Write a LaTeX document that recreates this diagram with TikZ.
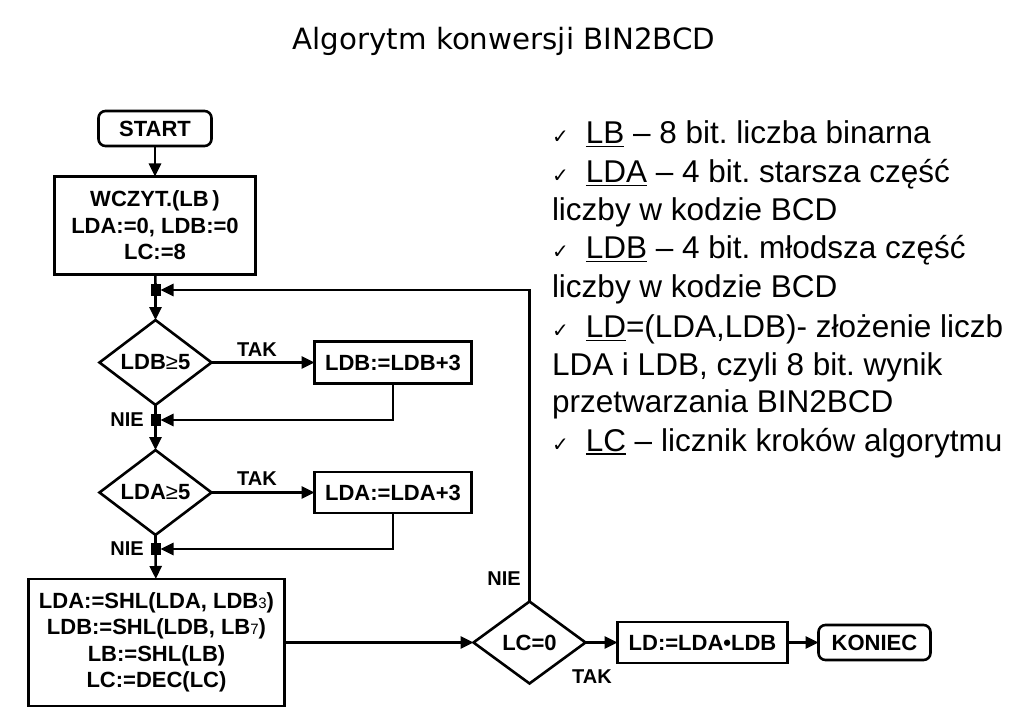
\documentclass[tikz,border=0pt]{standalone}
\usepackage{fontspec}
\setmainfont{Liberation Sans}
\newfontfamily\titlefont{DejaVu Sans}
\newfontfamily\symfont{DejaVu Sans}
\usetikzlibrary{shapes.geometric,arrows.meta}
\frenchspacing
\newcommand\myul[1]{\setbox0=\hbox{#1}\rlap{\rule[-3.5pt]{\wd0}{1.8pt}}\box0\relax}
\newcommand\chk{{\symfont\fontsize{20}{20}\selectfont ✓}\hspace{17pt}}
\newcommand\subs[1]{{\mdseries\fontsize{15}{15}\selectfont #1}}
\tikzset{
  every node/.style={inner sep=0pt, outer sep=0pt},
  box/.style={draw, line width=2.6pt, align=center, font=\bfseries\fontsize{22}{26.5}\selectfont},
  rbox/.style={box, rounded corners=7pt},
  dec/.style={draw, diamond, line width=2.6pt, font=\bfseries\fontsize{22}{26.5}\selectfont},
  jn/.style={fill=black, minimum width=10pt, minimum height=12pt},
  lbl/.style={font=\bfseries\fontsize{20}{24}\selectfont},
  ln/.style={line width=2.6pt},
  arr/.style={ln, -{Triangle[length=13pt,width=12pt]}},
  desc/.style={anchor=base west, font=\fontsize{31.5}{38}\selectfont},
}
\begin{document}
\begin{tikzpicture}[x=1pt,y=-1pt]
\useasboundingbox (0,0) rectangle (1018,727);
% title
\node[anchor=base, font=\titlefont\fontsize{29.3}{34}\selectfont] (title) at (504,50) {Algorytm konwersji BIN2BCD};
% flowchart nodes
\node[rbox, minimum width=113pt, minimum height=35pt] (start) at (155,128.5) {START};
\node[box, minimum width=201pt, minimum height=98pt] (init) at (155,225.5) {WCZYT.(LB\,)\\LDA:=0, LDB:=0\\LC:=8};
\node[jn] (j1) at (155.5,290) {};
\node[dec, minimum width=112pt, minimum height=84pt] (d1) at (155.5,362.5) {LDB{\mdseries ≥}5};
\node[box, minimum width=157pt, minimum height=42pt] (b1) at (393,362.5) {LDB:=LDB+3};
\node[jn] (j2) at (155.5,420) {};
\node[dec, minimum width=112pt, minimum height=84pt] (d2) at (155.5,492.5) {LDA{\mdseries ≥}5};
\node[box, minimum width=157pt, minimum height=41pt] (b2) at (393,492.5) {LDA:=LDA+3};
\node[jn] (j3) at (155.5,549) {};
\node[box, minimum width=256pt, minimum height=127pt] (shl) at (156.5,642.5) {LDA:=SHL(LDA, LDB\subs{3})\\LDB:=SHL(LDB, LB\subs{7})\\LB:=SHL(LB)\\LC:=DEC(LC)};
\node[dec, minimum width=112pt, minimum height=82pt] (d3) at (529.5,642.5) {LC=0};
\node[box, minimum width=170pt, minimum height=41pt] (ld) at (702.5,642.5) {LD:=LDA•LDB};
\node[rbox, minimum width=112pt, minimum height=35pt] (end) at (874.5,642.5) {KONIEC};
% labels
\node[lbl] (tak1) at (257,350) {TAK};
\node[lbl] (nie1) at (127,420) {NIE};
\node[lbl] (tak2) at (257,479) {TAK};
\node[lbl] (nie2) at (127,549) {NIE};
\node[lbl] (nie3) at (504,579) {NIE};
\node[lbl] (tak3) at (592,677) {TAK};
% connectors
\draw[arr] (start) -- (init);
\draw[ln] (init) -- (j1);
\draw[arr] (j1) -- (d1);
\draw[arr] (d1) -- (b1);
\draw[ln] (d1) -- (j2);
\draw[arr] (b1.south) |- (j2.east);
\draw[arr] (j2) -- (d2);
\draw[arr] (d2) -- (b2);
\draw[ln] (d2) -- (j3);
\draw[arr] (b2.south) |- (j3.east);
\draw[arr] (j3) -- (shl);
\draw[arr] (shl) -- (d3);
\draw[arr] (d3.north) |- (j1.east);
\draw[arr] (d3) -- (ld);
\draw[arr] (ld) -- (end);
% description
\node[desc] (t1) at (552,144) {\chk\myul{LB} – 8 bit. liczba binarna};
\node[desc] (t2) at (552,183) {\chk\myul{LDA} – 4 bit. starsza część};
\node[desc] (t3) at (552,221) {liczby w kodzie BCD};
\node[desc] (t4) at (552,259) {\chk\myul{LDB} – 4 bit. młodsza część};
\node[desc] (t5) at (552,298) {liczby w kodzie BCD};
\node[desc] (t6) at (552,338) {\chk\myul{LD}=(LDA,LDB)- złożenie liczb};
\node[desc] (t7) at (552,376) {LDA i LDB, czyli 8 bit. wynik};
\node[desc] (t8) at (552,413) {przetwarzania BIN2BCD};
\node[desc] (t9) at (552,451) {\chk\myul{LC} – licznik kroków algorytmu};
\end{tikzpicture}
\end{document}
